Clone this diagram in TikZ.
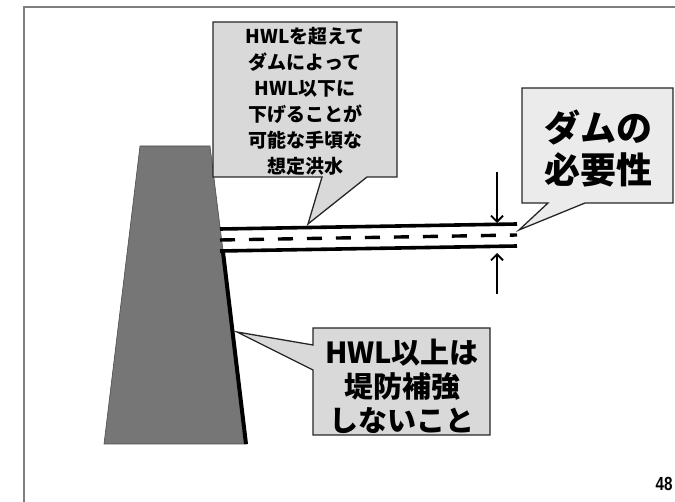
\documentclass[tikz,border=0pt]{standalone}
\usepackage{fontspec}
\newfontfamily\jp{Noto Sans CJK JP}
\newfontfamily\numfont{Liberation Sans}
\usetikzlibrary{arrows.meta}
\definecolor{damgray}{HTML}{767676}
\definecolor{boxgray}{HTML}{D9D9D9}
\definecolor{boxlight}{HTML}{EBEBEB}
\definecolor{framegray}{HTML}{7F7F7F}
\tikzset{
  calloutshape/.style={draw=black!85, line width=1.3pt, line join=miter},
  calltext/.style={font=\jp\bfseries, align=center, text=black, inner sep=0pt},
  river/.style={line width=3.6pt},
  levelarrow/.style={line width=1.8pt, -{Straight Barb[length=6pt,width=12pt,line width=1.8pt]}},
}
\begin{document}
\begin{tikzpicture}[x=1pt,y=-1pt]
\useasboundingbox (0,0) rectangle (675,502);
% frame
\draw[framegray, line width=1.5pt] (24,502) -- (24,7) -- (675,7);
% dam
\draw[fill=damgray, draw=black!70, line width=0.6pt] (140,146) -- (210,146) -- (247,444) -- (104,444) -- cycle;
\coordinate (lvtop) at (223,252);
\coordinate (lvbot) at (246,444);
\draw[line width=4pt] (lvtop) -- (lvbot);
% river
\coordinate (rtl) at (220,229);
\coordinate (rtr) at (517,224);
\coordinate (rbl) at (220,251);
\coordinate (rbr) at (517,246);
\coordinate (rml) at (220,240);
\coordinate (rmr) at (517,235);
\draw[river] (rtl) -- (rtr);
\draw[river] (rbl) -- (rbr);
\draw[line width=3.4pt, dash pattern=on 15pt off 14pt, dash phase=-0pt] (rml) -- (rmr);
% arrows
\coordinate (a1s) at (497,172);
\coordinate (a1e) at (497,223);
\coordinate (a2s) at (497,294);
\coordinate (a2e) at (497,253);
\draw[levelarrow] (a1s) -- (a1e);
\draw[levelarrow] (a2s) -- (a2e);
% callout 1
\draw[calloutshape, fill=boxgray] (213,22) -- (397,22) -- (397,177) -- (367,177) -- (308,224) -- (322,177) -- (213,177) -- cycle;
\node[calltext, font=\jp\bfseries\fontsize{19}{26}\selectfont] (c1) at (305,101)
  {HWLを超えて\\ダムによって\\HWL以下に\\下げることが\\可能な手頃な\\想定洪水};
% callout 2
\draw[calloutshape, fill=boxlight] (522,88) -- (673,88) -- (673,203) -- (585,203) -- (519,230) -- (548,203) -- (522,203) -- cycle;
\node[calltext, font=\jp\bfseries\fontsize{36}{42}\selectfont] (c2) at (598,148)
  {ダムの\\必要性};
% callout 3
\draw[calloutshape, fill=boxgray] (313,328) -- (490,328) -- (490,435) -- (313,435) -- (313,370) -- (237,332) -- (313,345) -- cycle;
\node[calltext, font=\jp\bfseries\fontsize{29}{34}\selectfont] (c3) at (402,386)
  {HWL以上は\\堤防補強\\しないこと};
% page number
\node[font=\numfont\bfseries\fontsize{19}{19}\selectfont, xscale=0.8, inner sep=0pt] (pg) at (664,484) {48};
\end{tikzpicture}
\end{document}
